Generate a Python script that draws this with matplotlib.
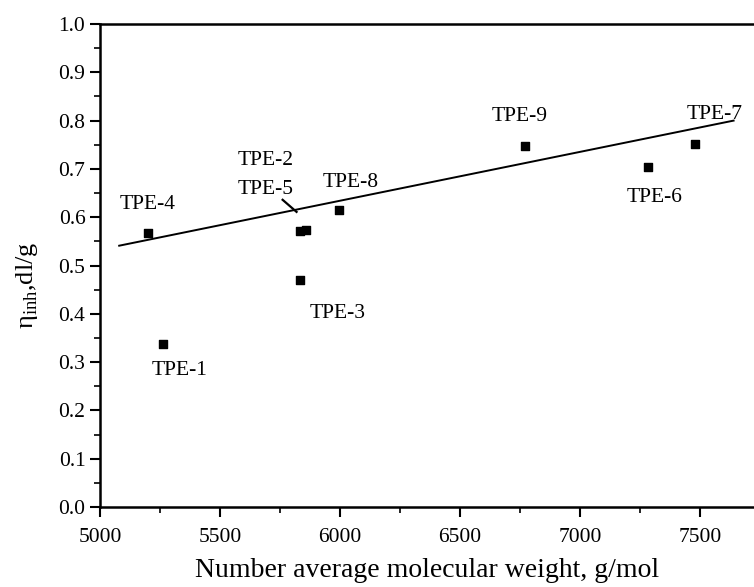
import matplotlib
matplotlib.use('Agg')
import matplotlib.pyplot as plt
from matplotlib.ticker import MultipleLocator, FormatStrFormatter

plt.rcParams['font.family'] = ['Liberation Serif', 'DejaVu Serif']
plt.rcParams['mathtext.fontset'] = 'custom'
plt.rcParams['mathtext.rm'] = 'Liberation Serif'

# data
names = ['TPE-1', 'TPE-2', 'TPE-3', 'TPE-4', 'TPE-5', 'TPE-6', 'TPE-7', 'TPE-8', 'TPE-9']
mn = [5262, 5833, 5833, 5200, 5860, 7283, 7479, 5996, 6771]
eta = [0.338, 0.572, 0.470, 0.567, 0.573, 0.704, 0.752, 0.614, 0.748]

fit_x = [5080, 7640]
fit_y = [0.541, 0.800]

# label positions (data coords)
lab_x = [5330, 5690, 5990, 5200, 5690, 7310, 7560, 6045, 6750]
lab_y = [0.282, 0.718, 0.400, 0.626, 0.658, 0.640, 0.813, 0.672, 0.808]

fig = plt.figure(figsize=(7.54, 5.87), dpi=100)
ax = fig.add_axes([0.1326, 0.1363, 0.8674, 0.8228])

ax.plot(fit_x, fit_y, color='black', lw=1.4)
ax.scatter(mn, eta, marker='s', s=36, color='black', zorder=3)

for n, x, y in zip(names, lab_x, lab_y):
    ax.text(x, y, n, ha='center', va='center', fontsize=15.5)

# leader for TPE-2/TPE-5
ax.plot([5761, 5819], [0.636, 0.611], color='black', lw=1.6)

ax.set_xlim(5000, 7725)
ax.set_ylim(0, 1.0)
ax.xaxis.set_major_locator(MultipleLocator(500))
ax.xaxis.set_minor_locator(MultipleLocator(250))
ax.yaxis.set_major_locator(MultipleLocator(0.1))
ax.yaxis.set_minor_locator(MultipleLocator(0.05))
ax.yaxis.set_major_formatter(FormatStrFormatter('%.1f'))

ax.spines['right'].set_visible(False)
for s in ['left', 'bottom', 'top']:
    ax.spines[s].set_linewidth(1.8)
ax.tick_params(which='major', direction='out', length=7, width=1.5, labelsize=15.5)
ax.tick_params(which='minor', direction='out', length=4, width=1.2)
ax.tick_params(axis='x', which='major', pad=8)
ax.tick_params(top=False, right=False)

ax.set_xlabel('Number average molecular weight, g/mol', fontsize=20, labelpad=8)
ax.set_ylabel(r'η$_{\mathregular{inh}}$,dl/g', fontsize=19)
ax.yaxis.set_label_coords(-0.092, 0.46)

fig.savefig('out.png', dpi=100)
